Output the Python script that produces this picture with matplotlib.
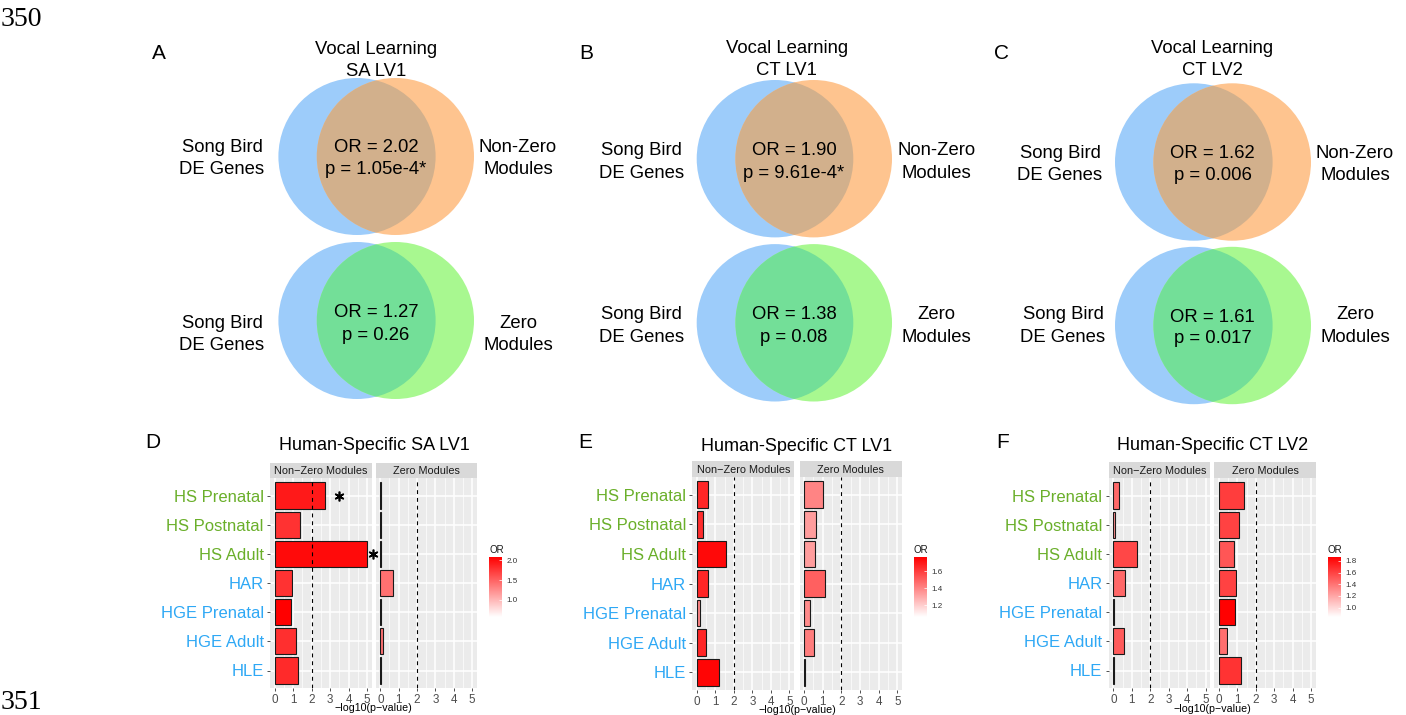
import numpy as np
import matplotlib as mpl
import matplotlib.pyplot as plt
from matplotlib.patches import Ellipse
from matplotlib.colors import LinearSegmentedColormap, Normalize

plt.rcParams['font.family'] = ['Liberation Sans', 'DejaVu Sans']

# ---- Venn panels (A-C) ----
venn_letters = ["A", "B", "C"]
venn_subtitles = ["SA LV1", "CT LV1", "CT LV2"]
nonzero_or = ["2.02", "1.90", "1.62"]
nonzero_p = ["1.05e-4*", "9.61e-4*", "0.006"]
zero_or = ["1.27", "1.38", "1.61"]
zero_p = ["0.26", "0.08", "0.017"]

# ---- Bar panels (D-F) ----
categories = ["HS Prenatal", "HS Postnatal", "HS Adult", "HAR",
              "HGE Prenatal", "HGE Adult", "HLE"]
category_groups = ["HS", "HS", "HS", "H", "H", "H", "H"]
bar_letters = ["D", "E", "F"]
bar_titles = ["Human-Specific SA LV1", "Human-Specific CT LV1", "Human-Specific CT LV2"]
facets = ["Non\u2212Zero Modules", "Zero Modules"]

# -log10(p) and odds ratios, one list per facet
d_nonzero_logp = [2.71, 1.39, 5.02, 0.94, 0.88, 1.14, 1.26]
d_nonzero_or = [1.93, 1.78, 2.02, 1.78, 2.08, 1.80, 1.83]
d_zero_logp = [0.02, 0.02, 0.02, 0.67, 0.02, 0.13, 0.03]
d_zero_or = [1.0, 1.0, 1.0, 1.41, 1.0, 1.41, 1.0]

e_nonzero_logp = [0.58, 0.31, 1.55, 0.61, 0.18, 0.47, 1.17]
e_nonzero_or = [1.66, 1.64, 1.74, 1.66, 1.40, 1.66, 1.75]
e_zero_logp = [1.02, 0.63, 0.59, 1.11, 0.34, 0.55, 0.05]
e_zero_or = [1.40, 1.33, 1.33, 1.50, 1.38, 1.42, 1.30]

f_nonzero_logp = [0.32, 0.11, 1.26, 0.61, 0.02, 0.58, 0.05]
f_nonzero_or = [1.45, 1.30, 1.58, 1.45, 1.00, 1.50, 1.00]
f_zero_logp = [1.36, 1.10, 0.80, 0.92, 0.89, 0.42, 1.18]
f_zero_or = [1.62, 1.60, 1.52, 1.60, 1.86, 1.42, 1.66]

or_limits = [(0.57, 2.08), (1.06, 1.765), (0.84, 1.868)]
or_ticks = [[1.0, 1.5, 2.0], [1.2, 1.4, 1.6], [1.0, 1.2, 1.4, 1.6, 1.8]]

# significance stars: (panel, facet, category index, x position)
stars = [(0, 0, 0, 3.47), (0, 0, 2, 5.3)]

# ---- figure setup ----
W, H = 1406, 715
fig = plt.figure(figsize=(W / 100, H / 100), dpi=100)
fig.patch.set_facecolor('white')

ov = fig.add_axes([0, 0, 1, 1])
ov.set_xlim(0, W)
ov.set_ylim(H, 0)
ov.axis('off')


def px_axes(x0, y0, x1, y1):
    return fig.add_axes([x0 / W, 1 - y1 / H, (x1 - x0) / W, (y1 - y0) / H])


def txt(x, y, s, size, ha='center', **kw):
    # y is the vertical centre of the capital letters
    ov.text(x, y + 0.358 * size * 100 / 72, s, fontsize=size, ha=ha, va='baseline', **kw)


# line numbers from the manuscript
ov.text(1, 7, "350", fontsize=20, family='Liberation Serif', va='top', ha='left')
ov.text(1, 690, "351", fontsize=20, family='Liberation Serif', va='top', ha='left')

# ---- Venn diagrams ----
blue, orange, brown = '#9DCCFA', '#FEC48F', '#D2B08C'
green, green_ov = '#A8F890', '#73DF98'

venn_layout = [
    dict(cb=357, co=395.4, rx=78.6, ry=78.5, cy1=156.5, cy2=320.5, tx=376, ty=(47, 69),
         lx=159, ly=52, left=(222, 222), right=518, mid=376,
         row1=(145, 167), row2_mid=(310, 333), row2_side=(321, 343)),
    dict(cb=775, co=813.7, rx=78.3, ry=78.7, cy1=158.7, cy2=322.8, tx=786.7, ty=(46.7, 68.3),
         lx=586.7, ly=51.7, left=(641.7, 641.7), right=936.7, mid=794,
         row1=(148, 171), row2_mid=(312.7, 335), row2_side=(312.7, 335)),
    dict(cb=1193.8, co=1232.2, rx=78.8, ry=78.7, cy1=162, cy2=325.5, tx=1212.3, ty=(46.7, 68),
         lx=1001.7, ly=52, left=(1060, 1063), right=1355, mid=1212.7,
         row1=(151, 173), row2_mid=(315, 336.7), row2_side=(312.7, 335)),
]

VS = 13.3
for i, L in enumerate(venn_layout):
    for cy, c2, cov in [(L['cy1'], orange, brown), (L['cy2'], green, green_ov)]:
        b = Ellipse((L['cb'], cy), 2 * L['rx'], 2 * L['ry'], color=blue, lw=0)
        o = Ellipse((L['co'], cy), 2 * L['rx'], 2 * L['ry'], color=c2, lw=0)
        m = Ellipse((L['co'], cy), 2 * L['rx'], 2 * L['ry'], color=cov, lw=0)
        ov.add_patch(b)
        ov.add_patch(o)
        ov.add_patch(m)
        m.set_clip_path(b)
    txt(L['lx'], L['ly'], venn_letters[i], 15)
    txt(L['tx'], L['ty'][0], "Vocal Learning", VS)
    txt(L['tx'], L['ty'][1], venn_subtitles[i], VS)
    # top pair
    txt(L['left'][0], L['row1'][0], "Song Bird", VS)
    txt(L['left'][0], L['row1'][1], "DE Genes", VS)
    txt(L['mid'], L['row1'][0], "OR = " + nonzero_or[i], VS)
    txt(L['mid'], L['row1'][1], "p = " + nonzero_p[i], VS)
    txt(L['right'], L['row1'][0], "Non-Zero", VS)
    txt(L['right'], L['row1'][1], "Modules", VS)
    # bottom pair
    txt(L['left'][1], L['row2_side'][0], "Song Bird", VS)
    txt(L['left'][1], L['row2_side'][1], "DE Genes", VS)
    txt(L['mid'], L['row2_mid'][0], "OR = " + zero_or[i], VS)
    txt(L['mid'], L['row2_mid'][1], "p = " + zero_p[i], VS)
    txt(L['right'], L['row2_side'][0], "Zero", VS)
    txt(L['right'], L['row2_side'][1], "Modules", VS)

# ---- bar panels ----
cmap = LinearSegmentedColormap.from_list('or', ['white', 'red'])
lab_green, lab_blue = '#6AAF2A', '#2EA8F5'

bar_layout = [
    dict(L=(270, 371.7), R=(375.7, 476.7), strip=463, top=478, bot=688,
         title=(374, 444), letter=(153, 441), xlab=(373, 707), cbx=489),
    dict(L=(692.4, 794), R=(799.5, 902), strip=461, top=477, bot=690,
         title=(796.3, 445), letter=(585, 441), xlab=(797, 709), cbx=914),
    dict(L=(1108.7, 1210.3), R=(1214.4, 1315.6), strip=462, top=478, bot=688,
         title=(1212.8, 444), letter=(1002.7, 441), xlab=(1212.5, 708), cbx=1328),
]
panel_data = [
    [(d_nonzero_logp, d_nonzero_or), (d_zero_logp, d_zero_or)],
    [(e_nonzero_logp, e_nonzero_or), (e_zero_logp, e_zero_or)],
    [(f_nonzero_logp, f_nonzero_or), (f_zero_logp, f_zero_or)],
]

n = len(categories)
ypos = np.arange(n)
for p, L in enumerate(bar_layout):
    norm = Normalize(*or_limits[p])
    for f, key in enumerate(['L', 'R']):
        x0, x1 = L[key]
        ax = px_axes(x0, L['top'], x1, L['bot'])
        ax.set_zorder(3 - f)
        ax.set_facecolor('#EBEBEB')
        logp, ors = panel_data[p][f]
        ax.barh(ypos, logp, height=0.9, color=cmap(norm(np.array(ors))),
                edgecolor='#1A1A1A', linewidth=0.8, zorder=3)
        ax.axvline(2, color='black', ls=(0, (3.5, 3.5)), lw=0.8, zorder=4)
        ax.set_xlim(-0.25, 5.25)
        ax.set_ylim(n - 0.4, -0.6)
        ax.set_xticks(range(6))
        ax.set_xticks(np.arange(0.5, 5, 1), minor=True)
        ax.set_yticks(ypos)
        ax.grid(which='major', color='white', lw=1.1, zorder=0)
        ax.grid(which='minor', axis='x', color='white', lw=0.5, zorder=0)
        ax.set_axisbelow(True)
        for s in ax.spines.values():
            s.set_visible(False)
        ax.tick_params(axis='x', which='major', length=2.5, width=0.6, color='#333333',
                       labelsize=8.4, labelcolor='#4D4D4D', pad=1.5)
        ax.tick_params(which='minor', length=0)
        if f == 0:
            ax.set_yticklabels(categories, fontsize=12)
            for lbl, g in zip(ax.get_yticklabels(), category_groups):
                lbl.set_color(lab_green if g == "HS" else lab_blue)
            ax.tick_params(axis='y', length=2.5, width=0.6, color='#333333', pad=2)
        else:
            ax.set_yticklabels([])
            ax.tick_params(axis='y', length=0)
        for sp, sf, si, sx in stars:
            if sp == p and sf == f:
                ax.plot([sx], [si], marker=(6, 2, 0), ms=7, mew=1.2, color='black',
                        clip_on=False, zorder=6)
        # facet strip
        sx_ax = px_axes(x0, L['strip'], x1, L['top'])
        sx_ax.set_facecolor('#D9D9D9')
        sx_ax.set_xticks([])
        sx_ax.set_yticks([])
        for s in sx_ax.spines.values():
            s.set_visible(False)
        sx_ax.text(0.5, 0.45, facets[f], transform=sx_ax.transAxes, ha='center', va='center',
                   fontsize=7.8, color='#1A1A1A')

    txt(L['title'][0], L['title'][1], bar_titles[p], 13)
    txt(L['letter'][0], L['letter'][1], bar_letters[p], 15)
    txt(L['xlab'][0], L['xlab'][1], "\u2212log10(p\u2212value)", 7.7)

    # OR colour legend
    cx = L['cbx']
    cax = px_axes(cx, 557, cx + 13, 617)
    cb = mpl.colorbar.ColorbarBase(cax, cmap=cmap, norm=norm, orientation='vertical')
    cb.set_ticks(or_ticks[p])
    cb.ax.set_yticklabels(["%.1f" % t for t in or_ticks[p]])
    cb.outline.set_visible(False)
    cax.tick_params(direction='in', color='white', length=2.5, width=0.5,
                    labelsize=5.8, pad=3, labelcolor='#333333')
    txt(cx, 550, "OR", 7, ha='left', color='#1A1A1A')

fig.savefig('out.png', dpi=100)
